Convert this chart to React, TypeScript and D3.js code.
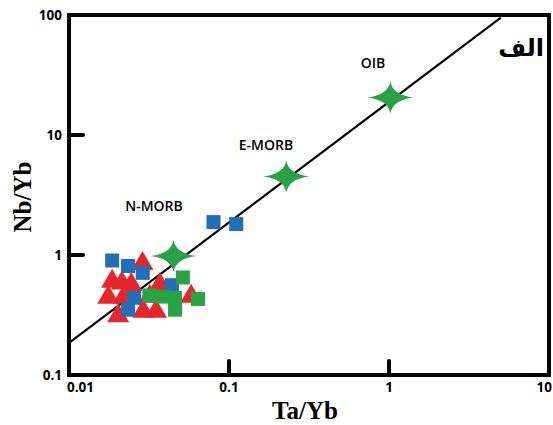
import React from "react";
import * as d3 from "d3";

const xTicks = [0.01, 0.1, 1, 10];
const xTickLabels = ["0.01", "0.1", "1", "10"];
const yTicks = [0.1, 1, 10, 100];
const yTickLabels = ["0.1", "1", "10", "100"];

// Red triangles
const triX = [0.0288, 0.0186, 0.0214, 0.0176, 0.0219, 0.0245, 0.037, 0.0203, 0.0291, 0.035, 0.058, 0.032];
const triY = [0.9, 0.64, 0.62, 0.47, 0.47, 0.6, 0.6, 0.33, 0.36, 0.36, 0.48, 0.48];

// Blue squares
const blueX = [0.0186, 0.0234, 0.0289, 0.0255, 0.0234, 0.044, 0.08, 0.111];
const blueY = [0.9, 0.81, 0.71, 0.44, 0.35, 0.56, 1.88, 1.81];

// Green squares
const greenX = [0.0515, 0.0318, 0.038, 0.046, 0.064, 0.046];
const greenY = [0.65, 0.46, 0.45, 0.44, 0.43, 0.35];

// Reference stars
const starNames = ["N-MORB", "E-MORB", "OIB"];
const starX = [0.045, 0.228, 1.02];
const starY = [0.98, 4.5, 20.5];
const starLabelX = [154, 266, 373];
const starLabelY = [211, 150, 68];

// Regression line endpoints
const lineX = [0.01, 5];
const lineY = [0.185, 95];

const W = 553;
const H = 425;

export default function App() {
  const x = d3.scaleLog().domain([0.01, 10]).range([69, 549]);
  const y = d3.scaleLog().domain([0.1, 100]).range([375, 15]);

  const starPath = (cx: number, cy: number) => {
    const a = 23, b = 16, c = 2.4;
    return `M${cx - a},${cy} Q${cx - c},${cy - c} ${cx},${cy - b} Q${cx + c},${cy - c} ${cx + a},${cy} Q${cx + c},${cy + c} ${cx},${cy + b} Q${cx - c},${cy + c} ${cx - a},${cy} Z`;
  };
  const tri = (cx: number, cy: number) => {
    const hw = 11, h = 19;
    return `M${cx},${cy - h / 2} L${cx + hw},${cy + h / 2} L${cx - hw},${cy + h / 2} Z`;
  };
  const sq = 14;

  const line = d3
    .line<number>()
    .x((_, i) => x(lineX[i]))
    .y((_, i) => y(lineY[i]));

  const tickFont = { fontFamily: "Open Sans, sans-serif", fontWeight: 700, fontSize: 13.5 } as const;
  const labelFont = { fontFamily: "Open Sans, sans-serif", fontWeight: 600, fontSize: 14 } as const;

  return (
    <svg width={W} height={H} style={{ position: "absolute", left: 0, top: 0, background: "#fff" }}>
      <rect x={0} y={0} width={W} height={H} fill="#fff" />
      {/* line */}
      <path d={line(lineX) || ""} stroke="#000" strokeWidth={2.2} fill="none" />

      {/* triangles */}
      {triX.map((v, i) => (
        <path key={"t" + i} d={tri(x(v), y(triY[i]))} fill="#e8252b" />
      ))}
      {/* blue squares */}
      {blueX.map((v, i) => (
        <rect key={"b" + i} x={x(v) - sq / 2} y={y(blueY[i]) - sq / 2} width={sq} height={sq} fill="#1f6fba" />
      ))}
      {/* green squares */}
      {greenX.map((v, i) => (
        <rect key={"g" + i} x={x(v) - sq / 2} y={y(greenY[i]) - sq / 2} width={sq} height={sq} fill="#27a445" />
      ))}
      {/* stars */}
      {starX.map((v, i) => (
        <path key={"s" + i} d={starPath(x(v), y(starY[i]))} fill="#2ba146" />
      ))}
      {/* star labels */}
      {starNames.map((n, i) => (
        <text key={"sl" + i} x={starLabelX[i]} y={starLabelY[i]} textAnchor="middle" style={labelFont}>
          {n}
        </text>
      ))}

      {/* frame */}
      <rect x={69} y={15} width={480} height={360} fill="none" stroke="#000" strokeWidth={4} />

      {/* y ticks */}
      {[1, 10].map((v) => (
        <line key={"yt" + v} x1={69} x2={83} y1={y(v)} y2={y(v)} stroke="#000" strokeWidth={4} strokeLinecap="round" />
      ))}
      {/* x ticks */}
      {[0.1, 1].map((v) => (
        <line key={"xt" + v} x1={x(v)} x2={x(v)} y1={375} y2={361} stroke="#000" strokeWidth={4} strokeLinecap="round" />
      ))}

      {/* y tick labels */}
      {yTicks.map((v, i) => (
        <text key={"yl" + v} x={62} y={y(v) + 5} textAnchor="end" style={tickFont}>
          {yTickLabels[i]}
        </text>
      ))}
      {/* x tick labels */}
      {xTicks.map((v, i) => (
        <text
          key={"xl" + v}
          x={i === 0 ? x(v) - 2 : i === 3 ? 552 : x(v)}
          y={392}
          textAnchor={i === 0 ? "start" : i === 3 ? "end" : "middle"}
          style={tickFont}
        >
          {xTickLabels[i]}
        </text>
      ))}

      {/* axis titles */}
      <text x={305} y={419} textAnchor="middle" style={{ fontFamily: "Liberation Serif, serif", fontWeight: 700, fontSize: 25 }}>
        Ta/Yb
      </text>
      <text
        transform={`translate(31,197) rotate(-90)`}
        textAnchor="middle"
        style={{ fontFamily: "Liberation Serif, serif", fontWeight: 700, fontSize: 25 }}
      >
        Nb/Yb
      </text>

      {/* panel label */}
      <text x={544} y={56} textAnchor="end" style={{ fontFamily: "DejaVu Sans, sans-serif", fontWeight: 700, fontSize: 24 }}>
        الف
      </text>
    </svg>
  );
}
